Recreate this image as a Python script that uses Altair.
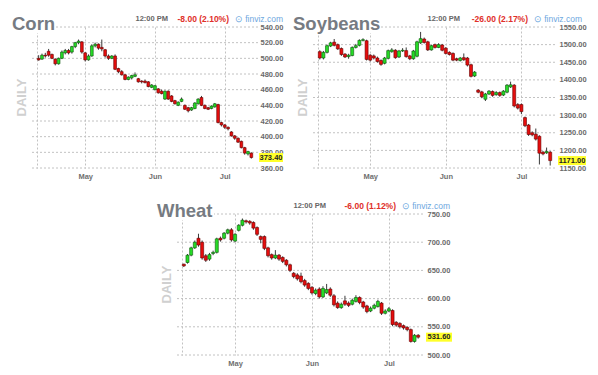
import altair as alt
import pandas as pd

# ---------------- data ----------------
month_labels = ["May", "Jun", "Jul"]
month_index = [14, 35, 56]          # trading-day index of the first session of each month

corn_open = [500,499,504,509,505,499,493,500,507,510,508,515,520,521,507,498,503,516,518,514,
             511,503,500,503,487,483,479,473,475,477,474,471,471,470,463,460,461,458,448,458,
             452,446,440,445,440,437,434,436,442,450,440,437,436,438,441,418,415,412,406,401,
             398,394,386,378,379]
corn_close = [498,504,503,504,500,493,500,508,510,507,515,520,522,508,498,503,516,518,513,512,
              503,500,503,486,483,479,473,476,478,479,470,470,469,464,466,465,456,455,458,448,
              445,442,444,448,435,433,437,443,448,440,436,435,439,442,418,415,412,410,401,398,
              393,386,379,381,373.4]
corn_high = [504,506,507,512,506,500,501,510,512,512,516,521,524,522,508,505,518,520,519,524,
             512,505,504,505,488,485,480,477,479,482,475,472,473,471,467,466,462,460,459,459,
             453,447,445,450,441,438,438,444,449,452,441,438,440,443,442,419,416,413,407,402,
             399,395,387,382,380]
corn_low = [497,498,501,502,499,491,492,499,505,505,506,513,518,506,496,497,502,514,511,509,
            501,498,499,485,481,478,472,472,473,476,469,468,468,463,462,459,455,454,447,447,
            444,441,439,444,434,431,433,435,441,439,435,434,435,437,417,413,410,408,400,396,
            392,385,377,376,372]

soy_open = [1480,1462,1478,1496,1507,1500,1489,1473,1466,1469,1492,1498,1512,1511,1470,1468,1462,1455,1447,1461,
            1480,1484,1465,1482,1483,1468,1460,1467,1505,1516,1508,1485,1500,1492,1499,1490,1478,1475,1460,1455,
            1463,1462,1443,1411,1371,1366,1345,1360,1367,1358,1364,1357,1365,1380,1385,1330,1330,1293,1272,1250,
            1246,1240,1195,1193,1195]
soy_close = [1462,1478,1497,1505,1498,1488,1472,1465,1470,1492,1497,1512,1514,1458,1456,1462,1452,1444,1462,1483,
             1485,1463,1482,1484,1466,1460,1482,1508,1517,1506,1485,1497,1492,1500,1484,1475,1472,1456,1456,1462,
             1457,1442,1410,1422,1365,1352,1360,1368,1356,1364,1356,1368,1385,1386,1326,1320,1310,1270,1245,1244,
             1232,1192,1190,1197,1171]
soy_high = [1484,1482,1500,1508,1516,1503,1492,1476,1474,1495,1502,1515,1518,1514,1473,1472,1466,1458,1465,1486,
            1490,1487,1485,1490,1492,1471,1485,1511,1536,1520,1511,1500,1503,1504,1502,1493,1481,1478,1463,1465,
            1475,1465,1446,1425,1374,1369,1363,1371,1370,1368,1367,1371,1388,1395,1388,1334,1333,1296,1275,1254,
            1262,1243,1198,1208,1198]
soy_low = [1458,1458,1475,1493,1495,1485,1468,1462,1460,1467,1489,1495,1509,1455,1452,1458,1449,1440,1444,1458,
           1477,1460,1462,1479,1463,1456,1457,1464,1502,1503,1482,1483,1489,1490,1481,1472,1469,1453,1453,1452,
           1454,1438,1407,1408,1362,1348,1340,1357,1352,1355,1352,1354,1362,1377,1322,1316,1303,1266,1241,1240,
           1228,1160,1186,1190,1157]

wheat_open = [661,664,677,690,707,700,676,670,680,682,707,707,716,722,702,721,730,738,737,735,
              726,710,710,690,678,672,677,673,668,660,645,642,640,632,627,620,609,617,603,610,
              617,605,592,584,596,592,590,595,602,594,587,578,583,586,592,574,578,579,558,556,
              552,549,545,524,535]
wheat_close = [658,677,690,700,695,672,668,678,682,706,704,716,722,704,714,730,739,736,734,725,
               714,705,689,676,672,677,670,666,660,650,639,635,630,624,618,610,615,603,618,616,
               606,589,584,590,590,588,597,602,593,585,577,583,588,595,574,578,582,554,553,550,
               548,545,524,535,531.6]
wheat_high = [662,679,692,703,715,703,679,681,685,708,710,718,724,725,716,732,742,740,739,737,
              728,712,712,692,680,686,679,675,670,662,647,645,646,635,629,622,618,620,622,626,
              620,608,595,593,605,595,600,606,604,596,589,586,591,598,594,581,585,581,560,558,
              554,551,547,537,537]
wheat_low = [656,662,675,688,692,669,665,667,677,680,701,705,714,701,700,719,728,733,731,722,
             711,698,686,673,669,670,667,663,657,647,636,632,627,621,615,607,606,600,601,608,
             603,586,582,582,587,585,588,593,590,582,574,576,581,584,571,572,576,551,550,547,
             545,542,522,522,529]

FONT = "Liberation Sans"
UP, DOWN = "#26dc26", "#e60d0d"
UP_EDGE, DOWN_EDGE = "#0c580c", "#660000"
GRID = "#c2c2c2"
H = 141


def panel(name, change, o, h, l, c, ymin, ymax, ystep, W, title_w, stamp_x, tag_w, x0=0):
    """x0 = empty room left of the plot inside the view (used to shift the wheat panel)."""
    n = len(c)
    df = pd.DataFrame({"i": list(range(n)), "open": o, "high": h, "low": l, "close": c})
    xs = alt.Scale(domain=[-0.5, n - 0.5], range=[x0, x0 + W], nice=False, zero=False)
    ys = alt.Scale(domain=[ymin, ymax], nice=False, zero=False)
    yticks = list(range(ymin, ymax + 1, ystep))
    expr = " : ".join(f"datum.value == {v} ? '{t}'" for v, t in zip(month_index, month_labels)) + " : ''"
    xaxis = alt.Axis(values=[-0.5] + month_index, labelExpr=expr, grid=True, gridDash=[2, 2],
                     gridColor=GRID, ticks=False, domain=False, labelFont=FONT, labelFontSize=7.5,
                     labelFontWeight="bold", labelColor="#707070", labelPadding=4,
                     labelOverlap=False, labelFlush=False, title=None)
    yaxis = alt.Axis(orient="right", values=yticks, format=".2f",
                     grid=False, ticks=False, domain=False,
                     labelFont=FONT, labelFontSize=7.5, labelFontWeight="bold",
                     labelColor="#6a6a6a", labelPadding=2, title=None)
    one = alt.Data(values=[{}])
    layers = []
    # horizontal dotted grid lines at the y tick values
    layers.append(alt.Chart(pd.DataFrame({"g": yticks})).mark_rule(
        color=GRID, strokeDash=[2, 2], strokeWidth=1).encode(
        x=alt.value(x0), x2=alt.value(x0 + W), y=alt.Y("g:Q", scale=ys, axis=yaxis)))
    base = alt.Chart(df)
    layers.append(base.mark_rule(color="#3a3a3a", strokeWidth=1).encode(
        x=alt.X("i:Q", scale=xs, axis=xaxis),
        y=alt.Y("low:Q", scale=ys, axis=yaxis),
        y2="high:Q"))
    layers.append(base.transform_calculate(
        dir="datum.close >= datum.open ? 'up' : 'down'"
    ).mark_bar(size=W / n * 0.8, strokeWidth=0.6).encode(
        x=alt.X("i:Q", scale=xs, axis=xaxis),
        y=alt.Y("open:Q", scale=ys, axis=yaxis),
        y2="close:Q",
        fill=alt.Fill("dir:N", scale=alt.Scale(domain=["up", "down"], range=[UP, DOWN]), legend=None),
        stroke=alt.Stroke("dir:N", scale=alt.Scale(domain=["up", "down"], range=[UP_EDGE, DOWN_EDGE]), legend=None)))
    layers.append(alt.Chart(one).mark_rect(color="white").encode(
        x=alt.value(x0 - 21), x2=alt.value(x0 + title_w), y=alt.value(-14), y2=alt.value(6)))
    layers.append(alt.Chart(one).mark_text(text=name, align="left", baseline="alphabetic", font=FONT,
                                           fontSize=18.5, fontWeight="bold", color="#767b82").encode(
        x=alt.value(x0 - 20), y=alt.value(2.5)))
    layers.append(alt.Chart(one).mark_text(text="DAILY", angle=270, align="center", baseline="middle",
                                           font=FONT, fontSize=13, fontWeight="bold", color="#d0d0d0").encode(
        x=alt.value(x0 - 10), y=alt.value(H / 2)))
    layers.append(alt.Chart(one).mark_text(text="12:00 PM", align="right", baseline="middle", font=FONT,
                                           fontSize=7.5, fontWeight="bold", color="#666666").encode(
        x=alt.value(x0 + stamp_x), y=alt.value(-8.5)))
    layers.append(alt.Chart(one).mark_text(text=change, align="right", baseline="middle", font=FONT,
                                           fontSize=8.5, fontWeight="bold", color="#e0302a").encode(
        x=alt.value(x0 + W - 29), y=alt.value(-8.5)))
    layers.append(alt.Chart(one).mark_text(text="⊙ finviz.com", align="right", baseline="middle", font=FONT,
                                           fontSize=8.5, color="#6ea8e0").encode(
        x=alt.value(x0 + W + 25), y=alt.value(-8.5)))
    last = pd.DataFrame({"close": [c[-1]]})
    layers.append(alt.Chart(last).mark_tick(orient="horizontal", size=tag_w, thickness=9, color="#ffff2a",
                                            opacity=1).encode(
        x=alt.value(x0 + W + 1 + tag_w / 2), y=alt.Y("close:Q", scale=ys, axis=yaxis)))
    layers.append(alt.Chart(last).mark_text(align="center", baseline="middle", font=FONT, fontSize=7.5,
                                            fontWeight="bold", color="#222222").encode(
        x=alt.value(x0 + W + 1 + tag_w / 2), y=alt.Y("close:Q", scale=ys, axis=yaxis),
        text=alt.Text("close:Q", format=".2f")))
    return alt.layer(*layers).properties(width=x0 + W, height=H)


corn = panel("Corn", "-8.00 (2.10%)", corn_open, corn_high, corn_low, corn_close,
             360, 540, 20, 226, 23, 136, 24)
soy = panel("Soybeans", "-26.00 (2.17%)", soy_open, soy_high, soy_low, soy_close,
            1150, 1550, 50, 244, 68, 147, 28)
wheat = panel("Wheat", "-6.00 (1.12%)", wheat_open, wheat_high, wheat_low, wheat_close,
              500, 750, 50, 248, 37, 149, 26, x0=145)

top = alt.hconcat(corn, soy, spacing=7)
chart = alt.vconcat(top, wheat, spacing=19).properties(
    padding={"left": 2, "top": 4, "right": 0, "bottom": 4}
).configure_view(stroke="transparent")

chart.save("out.html", embed_options={"renderer": "svg", "actions": False})
